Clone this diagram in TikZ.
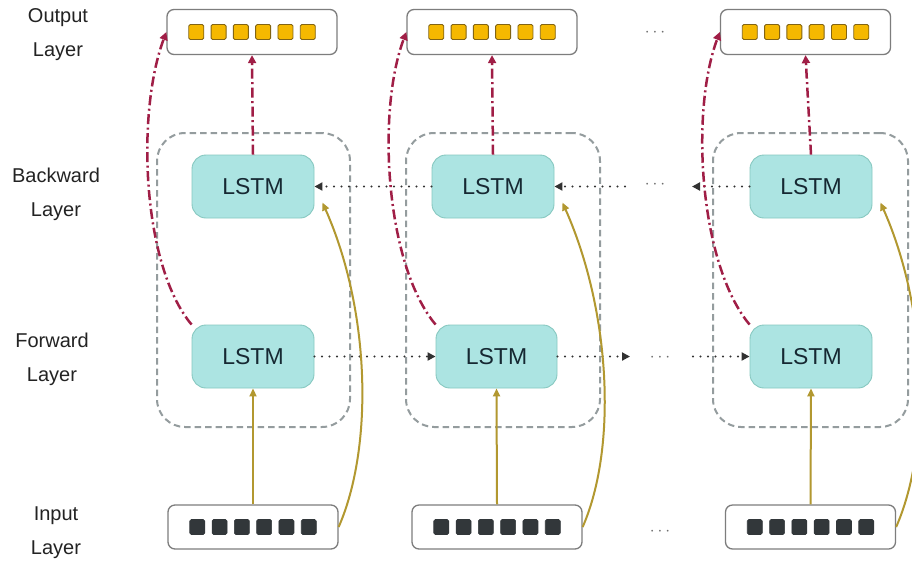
\documentclass[tikz,border=0pt]{standalone}
\usepackage{fontspec}
\setmainfont{Liberation Sans}
\usetikzlibrary{arrows.meta,calc}
\definecolor{lstmfill}{RGB}{172,228,226}
\definecolor{lstmdraw}{RGB}{135,200,192}
\definecolor{lstmtext}{RGB}{22,40,50}
\definecolor{boxdraw}{RGB}{125,125,125}
\definecolor{grpcol}{RGB}{148,156,158}
\definecolor{lblcol}{RGB}{35,35,35}
\definecolor{redc}{RGB}{160,30,70}
\definecolor{goldc}{RGB}{178,152,48}
\definecolor{dotc}{RGB}{50,50,50}
\definecolor{ellc}{RGB}{110,110,110}
\definecolor{ysqfill}{RGB}{245,184,0}
\definecolor{ysqdraw}{RGB}{130,100,20}
\definecolor{dsqc}{RGB}{50,55,58}
\begin{document}
\begin{tikzpicture}[x=1pt,y=-1pt,
  lstm/.style={draw=lstmdraw, fill=lstmfill, line width=0.9pt, rounded corners=14pt,
    minimum width=122pt, minimum height=63pt, inner sep=0pt,
    font=\fontsize{23}{23}\selectfont, text=lstmtext},
  vecbox/.style={draw=boxdraw, fill=white, line width=1.3pt, rounded corners=7pt,
    minimum width=170pt, minimum height=45pt, inner sep=0pt},
  grp/.style={draw=grpcol, dash pattern=on 6.5pt off 4pt, line width=2pt,
    rounded corners=28pt, inner sep=0pt},
  lbl/.style={align=center, font=\fontsize{20}{34}\selectfont, text=lblcol},
  redarr/.style={draw=redc, line width=2.5pt, dash pattern=on 10pt off 3.5pt on 2pt off 3.5pt,
    -{Triangle[length=8pt,width=8pt]}},
  goldarr/.style={draw=goldc, line width=2pt, -{Triangle[length=8pt,width=7pt]}},
  dotline/.style={draw=dotc, line width=2.3pt, line cap=round, dash pattern=on 0pt off 7.5pt},
  dotarr/.style={dotline, -{Triangle[length=8pt,width=8pt]}},
  ell/.style={text=ellc, font=\fontsize{18}{18}\selectfont, inner sep=0pt},
  ysq/.style={draw=ysqdraw, fill=ysqfill, line width=0.9pt, rounded corners=1.5pt},
  dsq/.style={draw=dsqc, fill=dsqc, line width=0.6pt, rounded corners=1.5pt}
]
\useasboundingbox (0,0) rectangle (912,563);
\fill[white] (0,0) rectangle (912,563);

% row labels
\node[lbl] (lout) at (58,34.5) {Output\\Layer};
\node[lbl] (lbw) at (56,194.5) {Backward\\Layer};
\node[lbl] (lfw) at (52,359) {Forward\\Layer};
\node[lbl] (lin) at (56,533) {Input\\Layer};

% groups
\node[grp, minimum width=193pt, minimum height=294pt] (g1) at (253.5,280) {};
\node[grp, minimum width=194pt, minimum height=294pt] (g2) at (503,280) {};
\node[grp, minimum width=195pt, minimum height=294pt] (g3) at (810.5,280) {};

% vector boxes
\node[vecbox] (out1) at (252,32) {};
\node[vecbox] (out2) at (492,32) {};
\node[vecbox] (out3) at (805.5,32) {};
\node[vecbox, minimum height=44pt] (in1) at (253,527) {};
\node[vecbox, minimum height=44pt] (in2) at (497,527) {};
\node[vecbox, minimum height=44pt] (in3) at (810.5,527) {};

\foreach \b in {out1,out2,out3}{
  \foreach \i in {0,...,5}{
    \draw[ysq] ($(\b.center)+(-63.25+22.3*\i,-7.5)$) rectangle +(15,15);
  }
}
\foreach \b in {in1,in2,in3}{
  \foreach \i in {0,...,5}{
    \draw[dsq] ($(\b.center)+(-63.25+22.3*\i,-7.5)$) rectangle +(15,15);
  }
}

% LSTM cells
\node[lstm] (bw1) at (253,186.5) {LSTM};
\node[lstm] (bw2) at (493,186.5) {LSTM};
\node[lstm] (bw3) at (811,186.5) {LSTM};
\node[lstm] (fw1) at (253,356.5) {LSTM};
\node[lstm, minimum width=121pt] (fw2) at (496.5,356.5) {LSTM};
\node[lstm] (fw3) at (811,356.5) {LSTM};

% ellipses
\node[ell] (e1) at (655,33) {$\cdots$};
\node[ell] (e2) at (655,185) {$\cdots$};
\node[ell] (e3) at (660,358) {$\cdots$};
\node[ell] (e4) at (660,532) {$\cdots$};

% free ends of recurrent dotted links
\coordinate (fa) at (630,356.5);
\coordinate (fb) at (693,356.5);
\coordinate (ba) at (625,186.5);
\coordinate (bb) at (692,186.5);

% forward recurrence
\draw[dotarr] (fw1.east) -- (fw2.west);
\draw[dotarr] (fw2.east) -- (fa);
\draw[dotarr] (fb) -- (fw3.west);
% backward recurrence
\draw[dotarr] (bw2.west) -- (bw1.east);
\draw[dotarr] (ba) -- (bw2.east);
\draw[dotarr] (bw3.west) -- (bb);

% input -> forward / backward, and both -> output
\foreach \c in {1,2,3}{
  \draw[goldarr] (in\c.north) -- (fw\c.south);
  \draw[goldarr] (in\c.east) .. controls +(35,-80) and +(48,108) .. ($(bw\c.east)+(8,16)$);
  \draw[redarr] (bw\c.north) -- (out\c.south);
  \draw[redarr] (fw\c.north west) .. controls +(-50,-60) and +(-30,80) .. (out\c.west);
}
\end{tikzpicture}
\end{document}
